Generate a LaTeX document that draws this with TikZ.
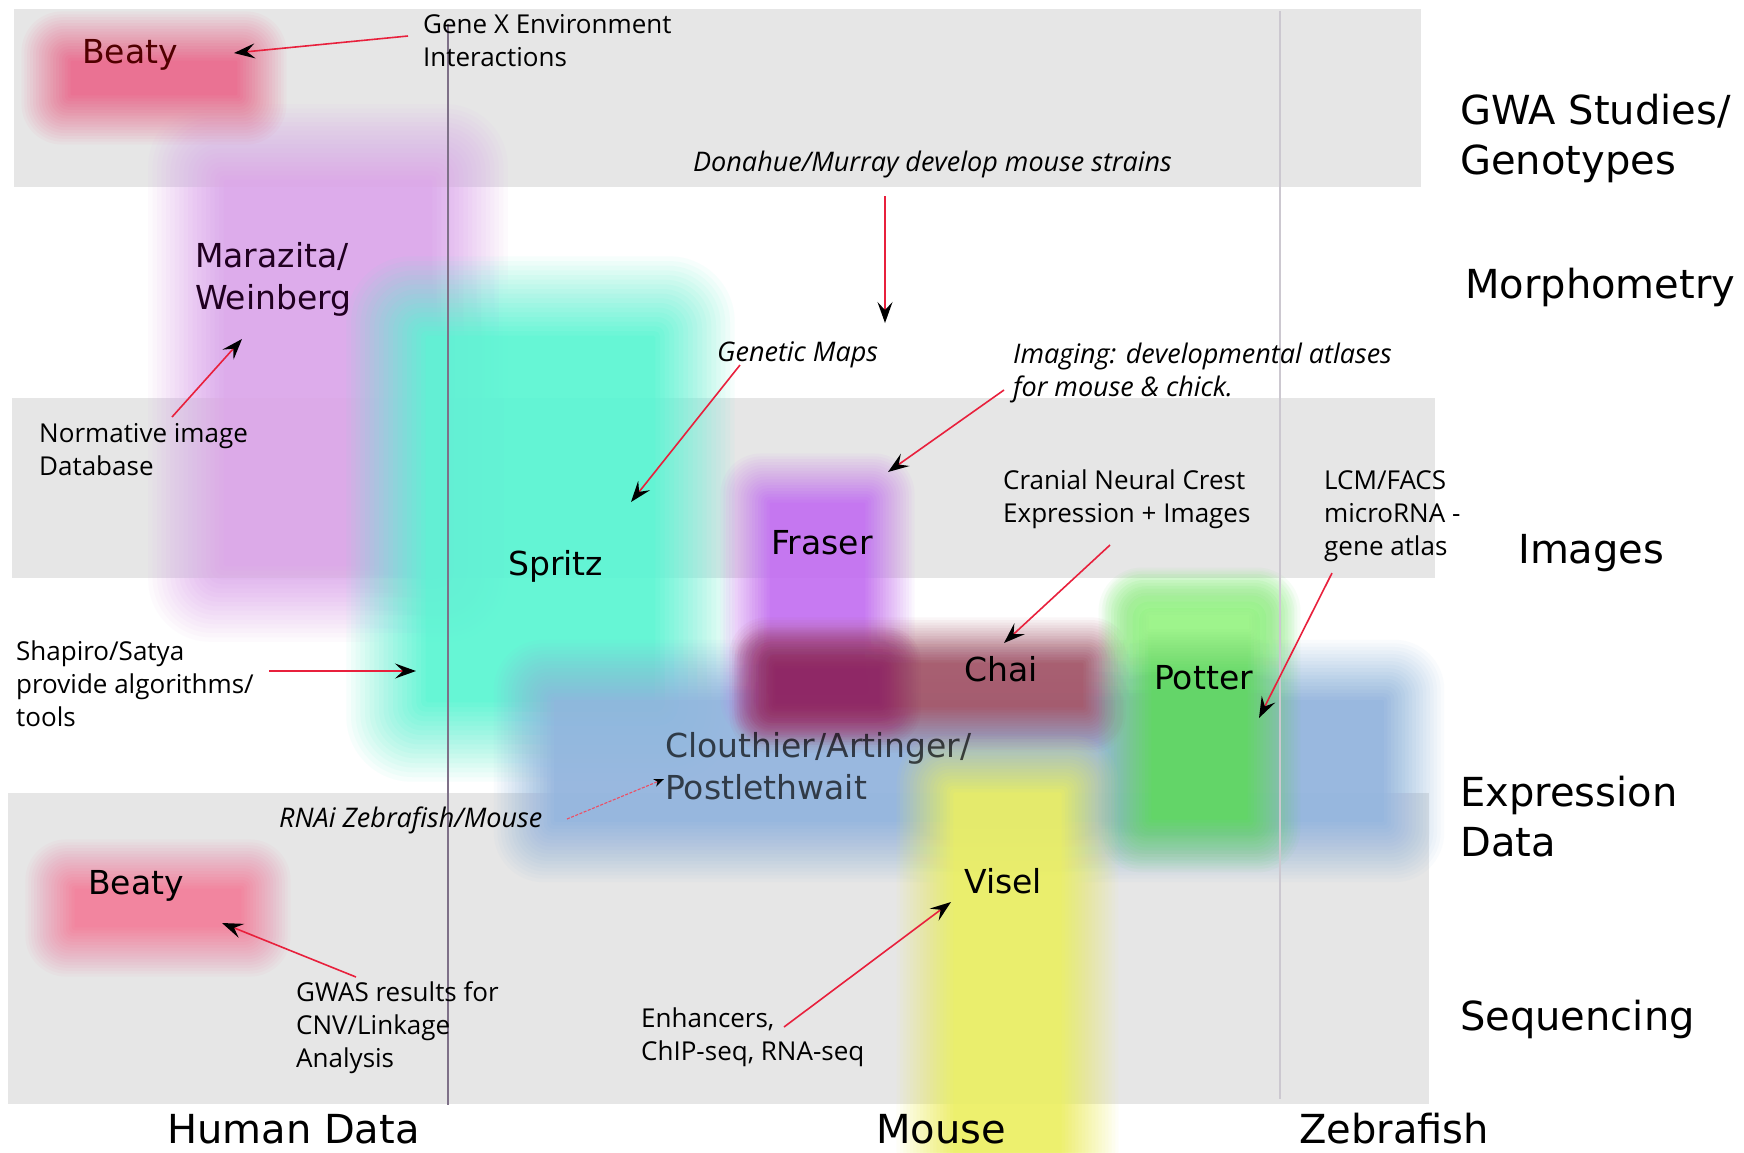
\documentclass[tikz,border=0pt]{standalone}
\usepackage{fontspec}
\setmainfont{DejaVu Sans}
\newfontfamily\annfont{Open Sans}
\usetikzlibrary{arrows.meta}
\definecolor{bandgray}{HTML}{E6E6E6}
\definecolor{linkred}{HTML}{E8203C}
\definecolor{sepleft}{HTML}{7E7088}
\definecolor{sepright}{HTML}{CCC8D0}
\definecolor{cBeaty}{HTML}{EC6A8E}
\definecolor{cBeatyB}{HTML}{F47E9B}
\definecolor{cMara}{HTML}{DCA6EA}
\definecolor{cSpritz}{HTML}{5AF6D3}
\definecolor{cClou}{HTML}{92B4DE}
\definecolor{cFraser}{HTML}{C470F2}
\definecolor{cChai}{HTML}{A65668}
\definecolor{cChaiD}{HTML}{8E2666}
\definecolor{cPotter}{HTML}{60D960}
\definecolor{cPotterL}{HTML}{A4F890}
\definecolor{cVisel}{HTML}{ECF064}
% soft-edged rectangle: linear alpha ramp of half-width #6 around the box edge
\newcommand\softblob[6]{%
  \foreach \k in {1,...,18}{%
    \pgfmathsetmacro\ee{#6*(1-2*(\k-0.5)/18)}%
    \pgfmathsetmacro\rr{max(1,0.8*(\ee+#6))}%
    \pgfmathsetmacro\aa{(0.92/18)/(1-0.92*(\k-1)/18)}%
    \fill[#5, fill opacity=\aa, rounded corners=\rr pt] (#1-\ee,#2-\ee) rectangle (#3+\ee,#4+\ee);
  }}
\tikzset{
  band/.style={fill=bandgray, draw=none},
  axislab/.style={font=\fontsize{40}{50}\selectfont, anchor=west, align=left, inner sep=0pt},
  who/.style={font=\fontsize{33}{42}\selectfont, anchor=west, align=left, inner sep=0pt},
  note/.style={font=\annfont\fontsize{26}{33}\selectfont, anchor=west, align=left, inner sep=0pt},
  inote/.style={font=\annfont\itshape\fontsize{27}{33}\selectfont, anchor=west, align=left, inner sep=0pt},
  link/.style={draw=linkred, line width=1.6pt, -{Stealth[length=21pt,width=15pt,inset=8pt,color=black]}},
  thinlink/.style={draw=linkred!80, line width=1.1pt, dash pattern=on 3pt off 1.5pt, -{Stealth[length=10pt,width=8pt,inset=3pt,color=black]}},
}
\begin{document}
\begin{tikzpicture}[x=1pt,y=-1pt]
\useasboundingbox (0,0) rectangle (1744,1152);
\fill[white] (0,0) rectangle (1744,1152);
% bands
\fill[band] (14,9) rectangle (1421,187);
\fill[band] (12,398) rectangle (1435,578);
\fill[band] (8,793) rectangle (1429,1104);
% blobs
\softblob{186}{142}{470}{604}{cMara}{40}
\softblob{386}{296}{695}{742}{cSpritz}{42}
\softblob{524}{670}{1414}{852}{cClou}{32}
\softblob{745}{478}{890}{716}{cFraser}{26}
\softblob{752}{640}{1106}{730}{cChai}{24}
\softblob{755}{648}{900}{724}{cChaiD}{22}
\softblob{1125}{594}{1274}{846}{cPotter}{28}
\softblob{1126}{592}{1272}{652}{cPotterL}{24}
\softblob{925}{764}{1090}{1190}{cVisel}{30}
\softblob{46}{36}{262}{120}{cBeaty}{26}
\softblob{50}{864}{266}{952}{cBeatyB}{26}
% column separators
\draw[draw=sepleft, line width=1.2pt] (448,24) coordinate (h1) -- (448,1105) coordinate (h2);
\draw[draw=sepright, line width=2pt] (1280,11) coordinate (z1) -- (1280,1099) coordinate (z2);
% row labels
\node[axislab] (gwa) at (1460,138) {GWA Studies/\\Genotypes};
\node[axislab] (morph) at (1465,287) {Morphometry};
\node[axislab] (img) at (1518,553) {Images};
\node[axislab] (expr) at (1460,817) {Expression\\Data};
\node[axislab] (seq) at (1460,1019) {Sequencing};
% column labels
\node[axislab] (human) at (167,1129) {Human Data};
\node[axislab] (mouse) at (876,1129) {Mouse};
\node[axislab] (zebra) at (1299,1129) {Zebrafish};
% groups
\node[who, text=black!55!red!70!black] (beaty1) at (82,55) {Beaty};
\node[who, text=black!75!violet] (mara) at (195,279) {Marazita/\\Weinberg};
\node[who] (spritz) at (508,566) {Spritz};
\node[who] (fraser) at (771,543) {Fraser};
\node[who] (chai) at (964,669) {Chai};
\node[who] (potter) at (1154,678) {Potter};
\node[who, text=black, text opacity=0.68] (clou) at (665,766) {Clouthier/Artinger/\\Postlethwait};
\node[who] (visel) at (964,881) {Visel};
\node[who] (beaty2) at (88,886) {Beaty};
% annotations
\node[note] (gxe) at (423,41) {Gene X Environment\\Interactions};
\node[inote] (don) at (693,164) {Donahue/Murray develop mouse strains};
\node[inote] (gmap) at (717,355) {Genetic Maps};
\node[inote] (imgat) at (1013,373) {Imaging: developmental atlases\\for mouse \& chick.};
\node[note] (norm) at (39,450) {Normative image\\Database};
\node[note] (cnc) at (1003,499) {Cranial Neural Crest\\Expression + Images};
\node[note] (lcm) at (1324,516) {LCM/FACS\\microRNA -\\gene atlas};
\node[note] (shap) at (16,684) {Shapiro/Satya\\provide algorithms/\\tools};
\node[inote] (rnai) at (279,820) {RNAi Zebrafish/Mouse};
\node[note] (gwas) at (296,1028) {GWAS results for\\CNV/Linkage\\Analysis};
\node[note] (enh) at (641,1037) {Enhancers,\\ChIP-seq, RNA-seq};
% arrow ends
\coordinate (a1s) at (408,36);   \coordinate (a1e) at (234,53);
\coordinate (a2s) at (885,196);  \coordinate (a2e) at (885,323);
\coordinate (a3s) at (740,365);  \coordinate (a3e) at (631,502);
\coordinate (a4s) at (1004,390); \coordinate (a4e) at (888,472);
\coordinate (a5s) at (172,417);  \coordinate (a5e) at (242,339);
\coordinate (a6s) at (269,671);  \coordinate (a6e) at (416,671);
\coordinate (a7s) at (567,819);  \coordinate (a7e) at (664,779);
\coordinate (a8s) at (1110,545); \coordinate (a8e) at (1004,643);
\coordinate (a9s) at (1332,573); \coordinate (a9e) at (1259,718);
\coordinate (a10s) at (356,977); \coordinate (a10e) at (222,923);
\coordinate (a11s) at (784,1027);\coordinate (a11e) at (951,902);
\draw[link] (a1s) -- (a1e);
\draw[link] (a2s) -- (a2e);
\draw[link] (a3s) -- (a3e);
\draw[link] (a4s) -- (a4e);
\draw[link] (a5s) -- (a5e);
\draw[link] (a6s) -- (a6e);
\draw[thinlink] (a7s) -- (a7e);
\draw[link] (a8s) -- (a8e);
\draw[link] (a9s) -- (a9e);
\draw[link] (a10s) -- (a10e);
\draw[link] (a11s) -- (a11e);
\end{tikzpicture}
\end{document}
